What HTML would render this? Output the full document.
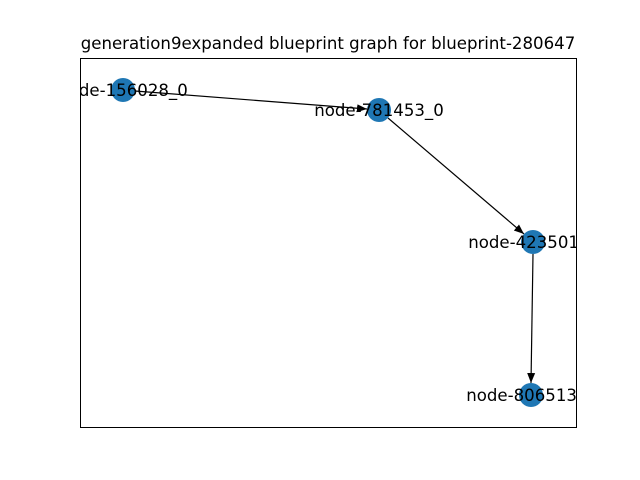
<!DOCTYPE html>
<html><head><meta charset="utf-8"><style>
html,body{margin:0;padding:0;background:#fff;}
svg{display:block;}
text{font-family:"DejaVu Sans","Liberation Sans",sans-serif;}
</style></head><body>
<svg width="640" height="480" viewBox="0 0 640 480" xmlns="http://www.w3.org/2000/svg">
<defs>
<clipPath id="ax"><rect x="80" y="58" width="496" height="369"/></clipPath>
<marker id="ar" viewBox="0 0 10 10" refX="10" refY="5" markerWidth="10" markerHeight="10" markerUnits="userSpaceOnUse" orient="auto">
<path d="M0,1 L10,5 L0,9 z" fill="#000"/></marker>
</defs>
<text x="328" y="49" font-size="16.6" text-anchor="middle">generation9expanded blueprint graph for blueprint-280647</text>
<rect x="80.5" y="58.5" width="496" height="369" fill="none" stroke="#000" stroke-width="1"/>
<g stroke="#000" stroke-width="1.2">
<line x1="135" y1="91" x2="367" y2="109" marker-end="url(#ar)"/>
<line x1="388" y1="118" x2="524" y2="234" marker-end="url(#ar)"/>
<line x1="533" y1="254" x2="531" y2="383" marker-end="url(#ar)"/>
</g>
<g fill="#1f77b4">
<circle cx="123" cy="90" r="12"/>
<circle cx="379" cy="110" r="12"/>
<circle cx="533" cy="242" r="12"/>
<circle cx="531" cy="395" r="12"/>
</g>
<g clip-path="url(#ax)" font-size="16.6" text-anchor="middle">
<text x="123" y="96">node-156028_0</text>
<text x="379" y="116">node-781453_0</text>
<text x="533" y="248">node-423501_0</text>
<text x="531" y="401">node-806513_0</text>
</g>
</svg>
</body></html>
